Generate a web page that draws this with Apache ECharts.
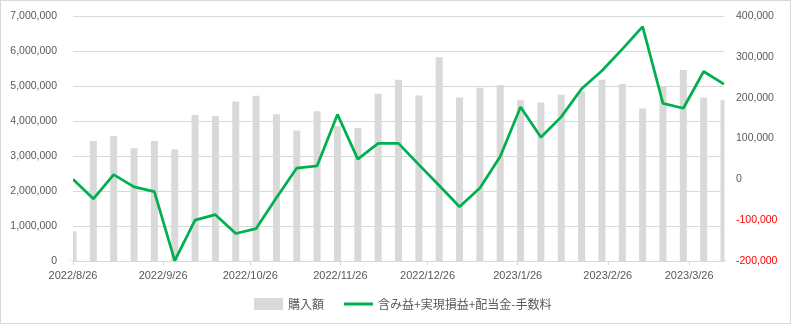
<!DOCTYPE html>
<html>
<head>
<meta charset="utf-8">
<script src="https://cdn.jsdelivr.net/npm/echarts@6/dist/echarts.min.js"></script>
<style>
html,body{margin:0;padding:0;background:#fff;}
#c{width:791px;height:324px;box-sizing:border-box;border:1px solid #d9d9d9;}
</style>
</head>
<body>
<div id="c"></div>
<script>
// weekly dates
const dates = ['2022/8/26','2022/9/2','2022/9/9','2022/9/16','2022/9/23','2022/9/30','2022/10/7','2022/10/14','2022/10/21','2022/10/28','2022/11/4','2022/11/11','2022/11/18','2022/11/25','2022/12/2','2022/12/9','2022/12/16','2022/12/23','2022/12/30','2023/1/6','2023/1/13','2023/1/20','2023/1/27','2023/2/3','2023/2/10','2023/2/17','2023/2/24','2023/3/3','2023/3/10','2023/3/17','2023/3/24','2023/3/31','2023/4/7'];
// 購入額
const purchase = [850000,3430000,3570000,3220000,3430000,3190000,4170000,4140000,4560000,4720000,4190000,3730000,4280000,3850000,3800000,4780000,5180000,4730000,5820000,4670000,4950000,5030000,4590000,4530000,4750000,4850000,5180000,5060000,4360000,4970000,5460000,4670000,4590000];
// 含み益+実現損益+配当金-手数料
const profit = [0,-47600,11400,-18500,-30000,-199000,-100000,-86500,-132700,-120600,-45000,27700,33000,159000,49500,88000,88000,36000,-15000,-67000,-21000,56000,177000,103000,153000,222000,266000,319000,374000,186000,174000,264000,233000];
// x tick labels
const xTicks = ['2022/8/26','2022/9/26','2022/10/26','2022/11/26','2022/12/26','2023/1/26','2023/2/26','2023/3/26'];
const xMin = '2022/8/26', xMax = '2023/4/7';

const DAY = 86400000;
function dayIdx(s){const p=s.split('/').map(Number);const b=xMin.split('/').map(Number);
  return Math.round((Date.UTC(p[0],p[1]-1,p[2])-Date.UTC(b[0],b[1]-1,b[2]))/DAY);}
const tickPos = xTicks.map(dayIdx);

const chart = echarts.init(document.getElementById('c'));
const numFont = 'Liberation Sans';
const G = {left:72,right:66,top:15,bottom:62};
chart.setOption({
  animation:false,
  grid:Object.assign({containLabel:false},G),
  legend:{
    left:253, top:297, padding:0, itemWidth:29, itemHeight:12, itemGap:20,
    textStyle:{fontFamily:'Noto Sans CJK JP',fontSize:12,color:'#595959'},
    data:[{name:'購入額',icon:'rect'},
          {name:'含み益+実現損益+配当金-手数料',icon:'path://M0,0H29V3H0Z'}]
  },
  xAxis:{
    type:'value', min:0, max:dayIdx(xMax),
    axisLine:{show:true,onZero:false,lineStyle:{color:'#d9d9d9'}},
    axisTick:{show:true,customValues:tickPos,length:4,lineStyle:{color:'#d9d9d9'}},
    axisLabel:{customValues:tickPos,margin:9,fontFamily:numFont,fontSize:11,color:'#595959',
      formatter:function(v){const i=tickPos.indexOf(Math.round(v));return i>=0?xTicks[i]:'';}},
    splitLine:{show:false}
  },
  yAxis:[{
    type:'value',min:0,max:7000000,interval:1000000,
    axisLine:{show:false},axisTick:{show:false},
    axisLabel:{margin:16,fontFamily:numFont,fontSize:10.5,color:'#595959',
      formatter:function(v){return v.toLocaleString('en-US');}},
    splitLine:{lineStyle:{color:'#d9d9d9'}}
  },{
    type:'value',min:-200000,max:400000,interval:100000,position:'right',
    axisLine:{show:false},axisTick:{show:false},
    axisLabel:{margin:12,fontFamily:numFont,fontSize:10.5,
      color:function(v){return Number(v)<0?'#ff0000':'#595959';},
      formatter:function(v){return v.toLocaleString('en-US');}},
    splitLine:{show:false}
  }],
  series:[{
    name:'購入額',type:'bar',yAxisIndex:0,barWidth:7,clip:true,
    itemStyle:{color:'#d9d9d9'},
    data:dates.map((d,i)=>[dayIdx(d),purchase[i]])
  },{
    name:'含み益+実現損益+配当金-手数料',type:'line',yAxisIndex:1,z:3,
    symbol:'none',lineStyle:{color:'#00b050',width:2.75},itemStyle:{color:'#00b050'},
    data:dates.map((d,i)=>[dayIdx(d),profit[i]])
  }]
});
// mask bar overhang outside the plot area (bars are cut at the plot edges)
const W = chart.getWidth(), H = chart.getHeight();
chart.setOption({graphic:{elements:[
  {type:'rect',z:100,shape:{x:G.left-6,y:G.top,width:6,height:H-G.top-G.bottom-0.5},style:{fill:'#fff'}},
  {type:'rect',z:100,shape:{x:W-G.right+0.5,y:G.top,width:6,height:H-G.top-G.bottom-0.5},style:{fill:'#fff'}}
]}});
</script>
</body>
</html>
